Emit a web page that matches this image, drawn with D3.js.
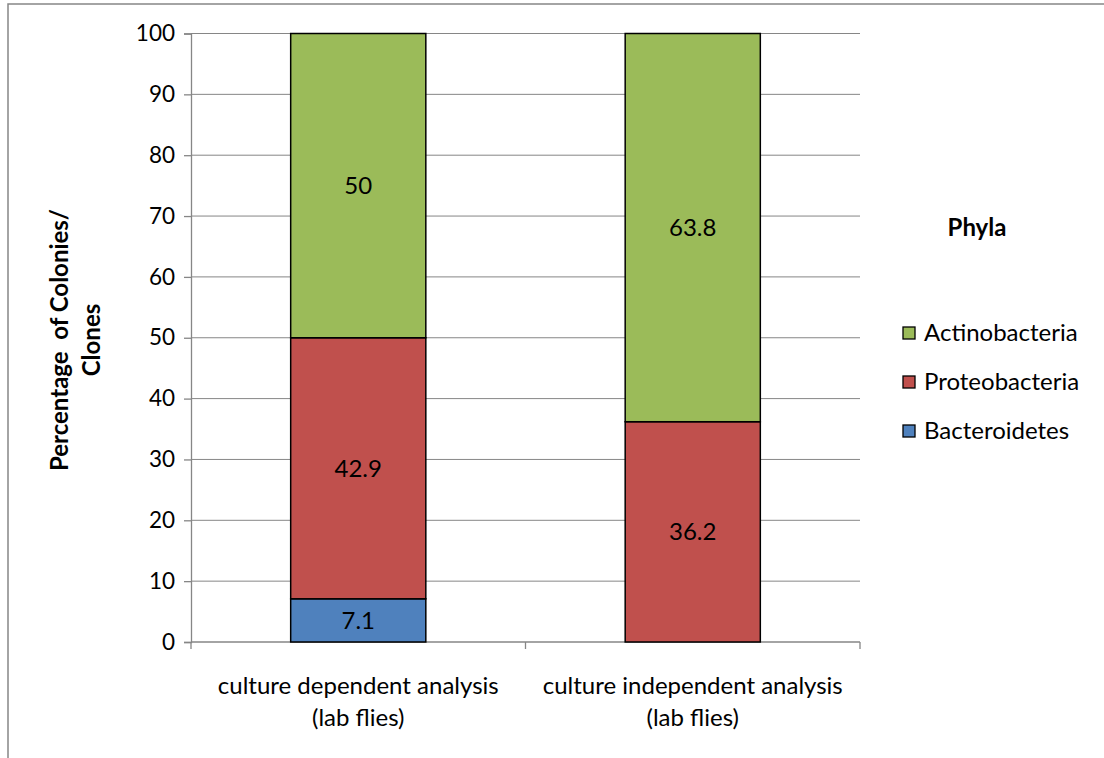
<html>
<head>
<meta charset="utf-8">
<script src="https://d3js.org/d3.v7.min.js"></script>
<style>
  body { margin: 0; background: #fff; }
  text { font-family: Lato, "Open Sans", sans-serif; fill: #000; }
</style>
</head>
<body>
<div id="my_dataviz"></div>
<script>
// data
const categories = ["culture dependent analysis|(lab flies)", "culture independent analysis|(lab flies)"];
const phyla = ["Bacteroidetes", "Proteobacteria", "Actinobacteria"];
const bacteroidetes = [7.1, 0];
const proteobacteria = [42.9, 36.2];
const actinobacteria = [50, 63.8];
const yTicks = [0, 10, 20, 30, 40, 50, 60, 70, 80, 90, 100];
const colors = ["#4F81BD", "#C0504D", "#9BBB59"];

const W = 1104, H = 758;
const margin = {top: 33.5, left: 191, right: W - 860, bottom: H - 642};
const width = W - margin.left - margin.right,
      height = H - margin.top - margin.bottom;
const fs = "24px";

const root = d3.select("#my_dataviz").append("svg")
  .attr("width", W).attr("height", H);

// outer frame (only left/top visible in the original)
root.append("rect")
  .attr("x", 8).attr("y", 4).attr("width", 1200).attr("height", 900)
  .attr("fill", "none").attr("stroke", "#868686").attr("stroke-width", 1.5);

const svg = root.append("g")
  .attr("transform", `translate(${margin.left},${margin.top})`);

const x = d3.scaleBand().domain(categories).range([0, width])
  .paddingInner(0.596).paddingOuter(0.298);
const y = d3.scaleLinear().domain([0, 100]).range([height, 0]);

// gridlines
svg.append("g")
  .selectAll("line").data(yTicks.filter(d => d > 0)).join("line")
  .attr("x1", 0).attr("x2", width)
  .attr("y1", d => y(d)).attr("y2", d => y(d))
  .attr("stroke", "#868686").attr("stroke-width", 1);

// y axis
const yAxis = svg.append("g")
  .call(d3.axisLeft(y).tickValues(yTicks).tickSize(7).tickPadding(9));
yAxis.select(".domain").attr("stroke", "#868686").attr("stroke-width", 1.3);
yAxis.selectAll(".tick line").attr("stroke", "#868686").attr("stroke-width", 1.3);
yAxis.selectAll("text").style("font-size", "22.5px").attr("fill", "#000");

// x axis with boundary ticks
svg.append("line").attr("x1", 0).attr("x2", width)
  .attr("y1", height).attr("y2", height)
  .attr("stroke", "#868686").attr("stroke-width", 1.3);
svg.append("g").selectAll("line").data([0, 1, 2]).join("line")
  .attr("x1", d => d * x.step()).attr("x2", d => d * x.step())
  .attr("y1", height).attr("y2", height + 7)
  .attr("stroke", "#868686").attr("stroke-width", 1.3);

svg.append("g").selectAll("text").data(categories).join("text")
  .attr("x", d => x(d) + x.bandwidth() / 2)
  .attr("y", height + 52)
  .attr("text-anchor", "middle")
  .style("font-size", fs)
  .selectAll("tspan").data(d => d.split("|")).join("tspan")
    .attr("x", function() { const c = d3.select(this.parentNode).datum(); return x(c) + x.bandwidth() / 2; })
    .attr("dy", (d, i) => i ? 32 : 0)
    .text(d => d);

// stacked bars
const table = categories.map((c, i) => ({
  cat: c, Bacteroidetes: bacteroidetes[i], Proteobacteria: proteobacteria[i], Actinobacteria: actinobacteria[i]
}));
const series = d3.stack().keys(phyla)(table);

const layers = svg.append("g").selectAll("g").data(series).join("g")
  .attr("fill", (d, i) => colors[i]);

layers.selectAll("rect").data(d => d.filter(s => s[1] - s[0] > 0)).join("rect")
  .attr("x", d => x(d.data.cat))
  .attr("y", d => y(d[1]))
  .attr("width", x.bandwidth())
  .attr("height", d => y(d[0]) - y(d[1]))
  .attr("stroke", "#000").attr("stroke-width", 1.5);

layers.selectAll("text").data(d => d.filter(s => s[1] - s[0] > 0)).join("text")
  .attr("x", d => x(d.data.cat) + x.bandwidth() / 2)
  .attr("y", d => y((d[0] + d[1]) / 2))
  .attr("dy", "0.35em")
  .attr("text-anchor", "middle")
  .style("font-size", fs)
  .text(d => +(d[1] - d[0]).toFixed(1));

// y title
const yt = root.append("text")
  .attr("transform", "translate(0,340) rotate(-90)")
  .attr("text-anchor", "middle")
  .style("font-size", fs).style("font-weight", "bold")
  .style("white-space", "pre");
yt.append("tspan").attr("x", 0).attr("y", 68).text("Percentage  of Colonies/");
yt.append("tspan").attr("x", 0).attr("y", 100).text("Clones");

// legend
root.append("text").attr("x", 977).attr("y", 236)
  .attr("text-anchor", "middle")
  .style("font-size", fs).style("font-weight", "bold").text("Phyla");

const legendOrder = ["Actinobacteria", "Proteobacteria", "Bacteroidetes"];
const lg = root.append("g").selectAll("g").data(legendOrder).join("g")
  .attr("transform", (d, i) => `translate(903,${333 + i * 49})`);
lg.append("rect").attr("x", 0).attr("y", -6).attr("width", 12).attr("height", 12)
  .attr("fill", d => colors[phyla.indexOf(d)])
  .attr("stroke", "#000").attr("stroke-width", 1.3);
lg.append("text").attr("x", 21).attr("y", 0).attr("dy", "0.35em")
  .style("font-size", fs).text(d => d);
</script>
</body>
</html>
